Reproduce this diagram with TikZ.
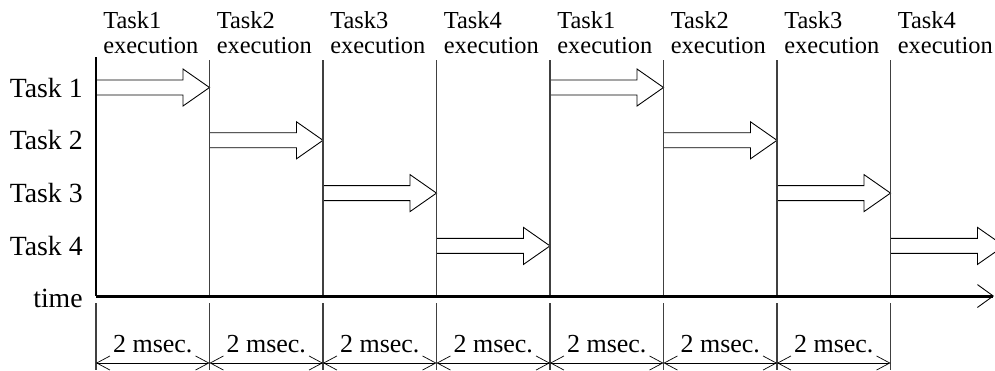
\documentclass[tikz,border=0pt]{standalone}
\usepackage{fontspec}
\setmainfont{Liberation Serif}
\usetikzlibrary{arrows.meta}

\tikzset{
  grid line/.style={draw=black!75, line width=0.7pt},
  task arrow/.style={draw, line width=0.5pt},
  row label/.style={anchor=base east, inner sep=0pt, font=\fontsize{15.8}{17}\selectfont},
  head label/.style={anchor=north west, inner sep=0pt, align=left, font=\fontsize{13.9}{14.2}\selectfont},
  span/.style={<->, line width=0.5pt, >={Straight Barb[length=7.5pt,width=8pt,line width=0.4pt]}},
}

\begin{document}
\begin{tikzpicture}[x=0.02cm, y=-0.02cm]
  \clip (0,0) rectangle (995,370);

  % row names on the left
  \foreach \r in {1,...,4}
    \node[row label] (task\r) at (83,{97+52.8*(\r-1)}) {Task \r};
  \node[row label] (timelbl) at (83,307) {time};

  % column grid, task headings and block arrows
  \foreach \t [count=\i from 0] in {1,2,3,4,1,2,3,4} {
    \pgfmathsetmacro{\x}{96+113.5*\i}
    \pgfmathsetmacro{\y}{87.5+52.8*(\t-1)}
    \coordinate (top\i) at (\x,60);
    \coordinate (base\i) at (\x,296);
    \coordinate (low\i) at (\x,303);
    \coordinate (foot\i) at (\x,370);
    \node[head label] (head\i) at (\x+7,11) {Task\t\\execution};
    \draw[task arrow] (\x,\y-7.5) -- ++(87,0) -- ++(0,-11) -- (\x+113.5,\y)
      -- (\x+87,\y+18.5) -- ++(0,-11) -- (\x,\y+7.5);
  }
  \foreach \i in {1,...,7}
    \draw[grid line] (top\i) -- (base\i);
  \foreach \i in {0,...,7}
    \draw[grid line] (low\i) -- (foot\i);

  % axes
  \coordinate (origin) at (96,57);
  \coordinate (timeend) at (994,296);
  \draw[line width=1.2pt] (origin) -- (base0);
  \draw[line width=1.7pt, -{Straight Barb[length=9pt,width=13pt,line width=0.5pt]}] (base0) -- (timeend);

  % period markers below the axis
  \foreach \i [evaluate=\i as \j using int(\i+1)] in {0,...,6} {
    \coordinate (dl\i) at (96+113.5*\i,363);
    \coordinate (dr\i) at (96+113.5*\j,363);
    \draw[span] (dl\i) -- (dr\i);
    \node[anchor=base, inner sep=0pt, font=\fontsize{14.8}{16}\selectfont] (period\i)
      at (96+113.5*\i+56.75,352) {2 msec.};
  }
\end{tikzpicture}
\end{document}
